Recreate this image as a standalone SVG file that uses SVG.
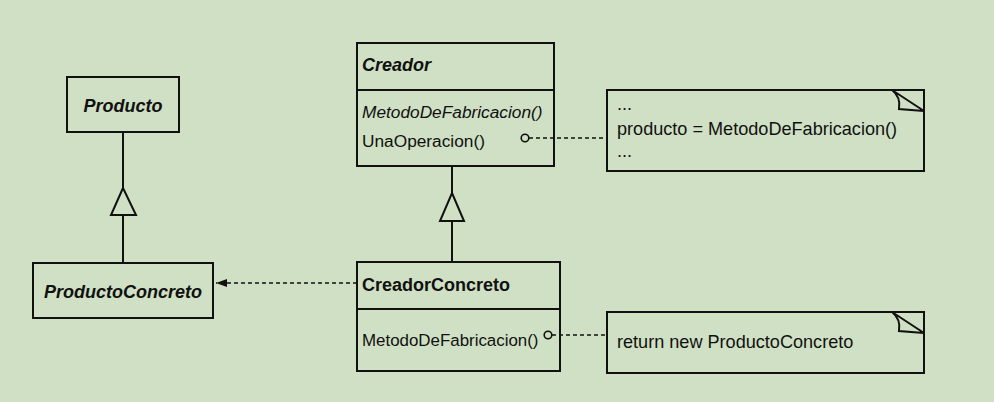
<svg xmlns="http://www.w3.org/2000/svg" width="994" height="402" viewBox="0 0 994 402">
<style>
.box{fill:none;stroke:#111;stroke-width:2}
.ln{fill:none;stroke:#111;stroke-width:2}
.dash{fill:none;stroke:#111;stroke-width:1.6;stroke-dasharray:4 3}
.tri{fill:#d0e0c4;stroke:#111;stroke-width:2}
.t{font-family:"Liberation Sans",Arial,sans-serif;fill:#111}
.cls{font-size:18px;font-weight:bold}
.it{font-style:italic}
.m{font-size:17.3px}
.m2{font-size:16.9px}
.n{font-size:18.1px}
</style>
<defs>
<marker id="arr" markerWidth="12" markerHeight="10" refX="11" refY="5" orient="auto" markerUnits="userSpaceOnUse">
<path d="M0,1 L11,5 L0,9 Z" fill="#111"/>
</marker>
</defs>
<rect width="994" height="402" fill="#d0e0c4"/>
<g id="connectors">
<line class="ln" x1="123" y1="132" x2="123" y2="188"/>
<polygon class="tri" points="123,188 136,215 111,215"/>
<line class="ln" x1="123" y1="215" x2="123" y2="263"/>
<line class="ln" x1="452" y1="166" x2="452" y2="193"/>
<polygon class="tri" points="452,193 464,221 440,221"/>
<line class="ln" x1="452" y1="221" x2="452" y2="262"/>
<line class="dash" x1="357" y1="283" x2="216" y2="283" marker-end="url(#arr)"/>
<circle cx="525" cy="138" r="3.8" fill="none" stroke="#111" stroke-width="1.6"/>
<line class="dash" x1="529" y1="138" x2="607" y2="138"/>
<circle cx="548" cy="335" r="3.8" fill="none" stroke="#111" stroke-width="1.6"/>
<line class="dash" x1="552" y1="335" x2="607" y2="335"/>
</g>
<g id="producto">
<rect class="box" x="67" y="77" width="112" height="55"/>
<text class="t cls it" x="123" y="112" text-anchor="middle">Producto</text>
</g>
<g id="productoConcreto">
<rect class="box" x="33" y="263" width="180" height="55"/>
<text class="t cls it" x="123" y="298" text-anchor="middle">ProductoConcreto</text>
</g>
<g id="creador">
<rect class="box" x="357" y="43" width="197" height="123"/>
<line class="ln" x1="357" y1="90" x2="554" y2="90"/>
<text class="t cls it" x="362" y="71">Creador</text>
<text class="t m it" x="362" y="118">MetodoDeFabricacion()</text>
<text class="t m" x="362" y="147">UnaOperacion()</text>
</g>
<g id="creadorConcreto">
<rect class="box" x="357" y="262" width="203" height="109"/>
<line class="ln" x1="357" y1="309" x2="560" y2="309"/>
<text class="t cls" x="362" y="291">CreadorConcreto</text>
<text class="t m2" x="362" y="346">MetodoDeFabricacion()</text>
</g>
<g id="note1">
<rect class="box" x="607" y="90" width="317" height="81"/>
<path class="ln" d="M892,90 L924,111 M892,90 Q901,97 899,109 L924,111"/>
<text class="t n" x="617" y="110">...</text>
<text class="t n" x="617" y="135">producto = MetodoDeFabricacion()</text>
<text class="t n" x="617" y="157">...</text>
</g>
<g id="note2">
<rect class="box" x="607" y="312" width="317" height="61"/>
<path class="ln" d="M892,312 L924,333 M892,312 Q901,319 899,331 L924,333"/>
<text class="t n" x="617" y="348">return new ProductoConcreto</text>
</g>
</svg>
